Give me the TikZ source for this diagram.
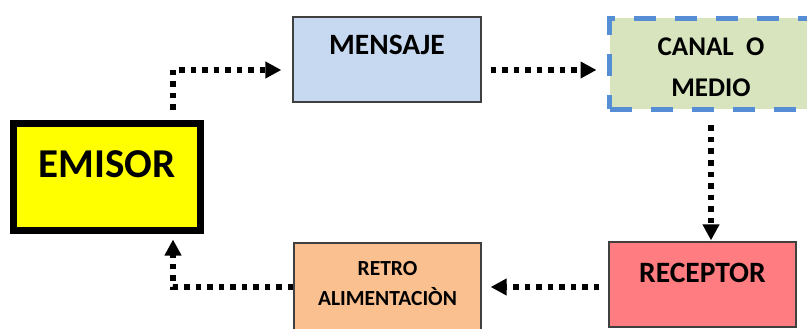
\documentclass[tikz,border=0pt]{standalone}
\usepackage{fontspec}
\setmainfont{Carlito}
\usepackage{tikz}
\usetikzlibrary{arrows.meta}

\definecolor{emisorfill}{HTML}{FFFF00}
\definecolor{mensajefill}{HTML}{C6D9F1}
\definecolor{canalfill}{HTML}{D7E4BD}
\definecolor{canalline}{HTML}{558ED5}
\definecolor{receptorfill}{HTML}{FF7C80}
\definecolor{retrofill}{HTML}{FAC090}

\begin{document}
\begin{tikzpicture}[x=1pt,y=-1pt]
				\useasboundingbox (0,0) rectangle (807,329);
				\clip (0,0) rectangle (807,329);
				\begin{scope}[every node/.style = {rectangle, draw=black!75, line width=1.3pt, inner sep=0pt},
					every label/.append style={font = \bfseries}]
					\node[fill=emisorfill, draw=black, line width=7pt,
						minimum width=187pt, minimum height=107pt] (emisor) at (107,177) {};
					\node[fill=mensajefill, minimum width=188pt, minimum height=85pt] (mensaje) at (387,59.5) {};
					\node[fill=canalfill, draw=canalline, line width=5pt, dash pattern=on 22pt off 19pt,
						minimum width=203pt, minimum height=91pt] (canal) at (711,64) {};
					\node[fill=receptorfill, minimum width=187pt, minimum height=85pt] (receptor) at (702.5,284.5) {};
					\node[fill=retrofill, minimum width=187pt, minimum height=90pt] (retro) at (387.5,288) {};
				\end{scope}
				\begin{scope}[every node/.style = {anchor=base, inner sep=0pt, font=\bfseries}]
					\node[font=\bfseries\fontsize{41}{41}\selectfont] (emisortxt) at (emisor.center) {EMISOR};
					\node[font=\bfseries\fontsize{29.5}{29.5}\selectfont] (mensajetxt) at ([yshift=4.5pt]mensaje.center) {MENSAJE};
					\node[font=\bfseries\fontsize{27}{27}\selectfont] (canaltxt) at ([yshift=8pt]canal.center) {CANAL\ \ O};
					\node[font=\bfseries\fontsize{27}{27}\selectfont] (mediotxt) at ([yshift=-33pt]canal.center) {MEDIO};
					\node[font=\bfseries\fontsize{29.5}{29.5}\selectfont] (receptortxt) at ([yshift=2.5pt]receptor.center) {RECEPTOR};
					\node[font=\bfseries\fontsize{21.5}{21.5}\selectfont] (retrotxt) at ([yshift=13pt]retro.center) {RETRO};
					\node[font=\bfseries\fontsize{21.5}{21.5}\selectfont] (alimtxt) at ([yshift=-17pt]retro.center) {ALIMENTACIÒN};
				\end{scope}
				\begin{scope}[>={Triangle[length=16pt,width=16pt,black]},
						every edge/.style={draw=black, line width=5.5pt, dash pattern=on 5.5pt off 6pt}]
					\path [->] ([xshift=66pt,yshift=10pt]emisor.north) edge[to path={|- (\tikztotarget)}]
						([xshift=-11pt,yshift=-10.5pt]mensaje.west);
					\path [->] ([xshift=9pt,yshift=-10.5pt]mensaje.east) edge ([xshift=-10.5pt,yshift=-6pt]canal.west);
					\path [->] ([yshift=-13.5pt]canal.south) edge ([xshift=8.5pt,yshift=1pt]receptor.north);
					\path [->] ([xshift=-9pt,yshift=-2.5pt]receptor.west) edge ([xshift=9pt,yshift=1pt]retro.east);
					\path [->] ([yshift=1pt]retro.west) edge[to path={-| (\tikztotarget)}]
						([xshift=66pt,yshift=-5.5pt]emisor.south);
				\end{scope}
			\end{tikzpicture}
\end{document}
